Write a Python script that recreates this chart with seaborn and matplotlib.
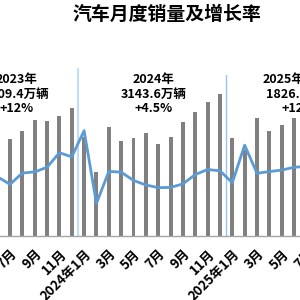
import pandas as pd
import matplotlib
matplotlib.use("Agg")
import matplotlib.pyplot as plt
import seaborn as sns

# Monthly sales (万辆) and year-on-year growth (%), Jun 2023 .. Jul 2025
months = ['2023-06', '2023-07', '2023-08', '2023-09', '2023-10', '2023-11', '2023-12',
          '2024-01', '2024-02', '2024-03', '2024-04', '2024-05', '2024-06',
          '2024-07', '2024-08', '2024-09', '2024-10', '2024-11', '2024-12',
          '2025-01', '2025-02', '2025-03', '2025-04', '2025-05', '2025-06', '2025-07']
sales = [262.2, 238.7, 258.2, 285.8, 285.3, 297.0, 315.6,
         243.9, 158.4, 269.4, 235.9, 241.7, 255.2,
         226.2, 245.3, 280.9, 305.3, 331.6, 351.6,
         242.3, 212.9, 291.5, 259.0, 274.8, 290.4, 259.1]
growth = [4.8, -2.1, 8.4, 9.5, 13.8, 27.4, 23.5,
          47.9, -19.9, 9.9, 9.3, 1.5, -2.7,
          -5.2, -5.0, -1.7, 7.0, 11.7, 10.5,
          -0.6, 34.4, 8.2, 9.8, 11.2, 13.8, 14.7]

tick_labels = ['7月', '9月', '11月', '2024年1月', '3月', '5月', '7月', '9月', '11月',
               '2025年1月', '3月', '5月', '7月']

year_notes = ['2023年\n3009.4万辆\n+12%', '2024年\n3143.6万辆\n+4.5%', '2025年1-7月\n1826.9万辆\n+12%']

df = pd.DataFrame({'month': months, 'sales': sales, 'growth': growth})
df['pos'] = range(len(df))

sns.set_theme(style="white")
plt.rcParams['font.family'] = ['Noto Sans CJK SC', 'DejaVu Sans']

fig = plt.figure(figsize=(3, 3), dpi=100)
# the chart is wider than the picture: the axes run past both edges
ax = fig.add_axes([-0.0284, 0.2133, 1.0703, 0.7367])

sns.barplot(data=df, x='pos', y='sales', color='#808080', saturation=1,
            width=0.32, linewidth=0, ax=ax)
ax.set_xlim(-0.5, len(df) - 0.5)
ax.set_ylim(0, 546)

# year separators
ax.axvline(6.5, ymax=0.754, color='#C5DCF2', lw=1.6, zorder=0)
ax.axvline(18.5, ymax=0.728, color='#9DC3E6', lw=1.0, zorder=0)

# growth line on a second axis
ax2 = ax.twinx()
sns.lineplot(data=df, x='pos', y='growth', color='#5B9BD5', lw=2.0, ax=ax2)
ax2.set_ylim(-50.3, 155.8)
ax2.set_xlim(-0.5, len(df) - 0.5)

for a in (ax, ax2):
    a.set_yticks([])
    a.set_ylabel('')
    a.set_xlabel('')
    for s in ['top', 'left', 'right']:
        a.spines[s].set_visible(False)
ax2.spines['bottom'].set_visible(False)
ax.spines['bottom'].set_color('#A6A6A6')
ax.spines['bottom'].set_linewidth(1)

ax.set_xticks(range(1, len(df), 2))
ax.set_xticklabels(tick_labels, rotation=45, ha='right', rotation_mode='anchor',
                   fontsize=9.5, fontweight='bold', color='black')
ax.tick_params(axis='x', length=0, pad=8)

for xpos, note in zip([1.53, 12.66, 24.4], year_notes):
    ax.text(xpos, 351, note, ha='center', va='center', fontsize=9,
            fontweight='bold', color='black', linespacing=1.15)

fig.text(0.558, 0.953, '汽车月度销量及增长率', ha='center', va='center',
         fontsize=13.6, fontweight='bold', color='black')

fig.savefig('out.png', dpi=100)
plt.close()
